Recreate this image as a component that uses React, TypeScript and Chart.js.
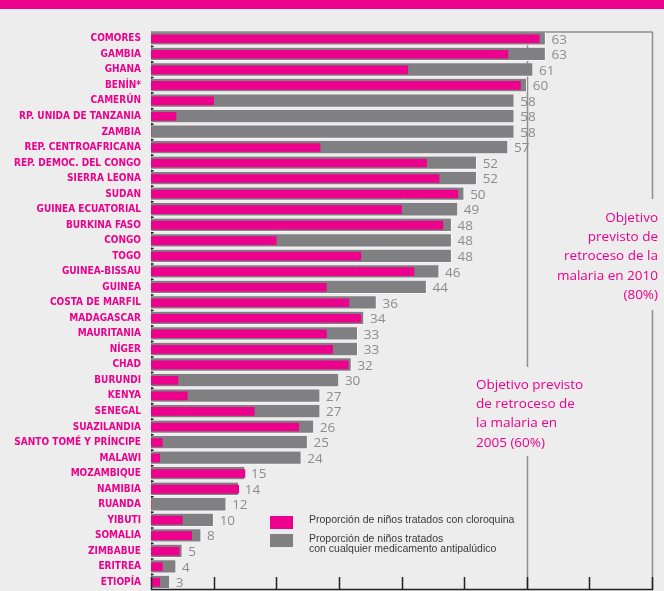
import React, { useEffect, useRef } from "react";
import { Chart, registerables } from "chart.js";

Chart.register(...registerables);

const categories = [
  "COMORES", "GAMBIA", "GHANA", "BENÍN*", "CAMERÚN", "RP. UNIDA DE TANZANIA", "ZAMBIA",
  "REP. CENTROAFRICANA", "REP. DEMOC. DEL CONGO", "SIERRA LEONA", "SUDAN", "GUINEA ECUATORIAL",
  "BURKINA FASO", "CONGO", "TOGO", "GUINEA-BISSAU", "GUINEA", "COSTA DE MARFIL", "MADAGASCAR",
  "MAURITANIA", "NÍGER", "CHAD", "BURUNDI", "KENYA", "SENEGAL", "SUAZILANDIA",
  "SANTO TOMÉ Y PRÍNCIPE", "MALAWI", "MOZAMBIQUE", "NAMIBIA", "RUANDA", "YIBUTI", "SOMALIA",
  "ZIMBABUE", "ERITREA", "ETIOPÍA",
];

const anyDrugValues = [
  63, 63, 61, 60, 58, 58, 58, 57, 52, 52, 50, 49, 48, 48, 48, 46, 44, 36, 34, 33, 33, 32, 30,
  27, 27, 26, 25, 24, 15, 14, 12, 10, 8, 5, 4, 3,
];

const chloroquineValues = [
  62, 57, 41, 59, 10, 4, 0, 27, 44, 46, 49, 40, 46.6, 20, 33.5, 42, 28, 31.6, 33.5, 28, 29, 31.5,
  4.3, 5.8, 16.5, 23.6, 1.8, 1.4, 15, 14, 0, 5, 6.5, 4.5, 1.8, 1.4,
];

const xTicks = [0, 10, 20, 30, 40, 50, 60, 70, 80];
const targetLines = [60, 80];

const legendLabels = [
  ["Proporción de niños tratados con cloroquina"],
  ["Proporción de niños tratados", "con cualquier medicamento antipalúdico"],
];

const note2010 = ["Objetivo", "previsto de", "retroceso de la", "malaria en 2010", "(80%)"];
const note2005 = ["Objetivo previsto", "de retroceso de", "la malaria en", "2005 (60%)"];

const PINK = "#ec008c";
const GREY = "#808083";
const LINE = "#8e8e8e";

const decorPlugin = {
  id: "decor",
  beforeDraw(chart: any) {
    const { ctx, width, height } = chart;
    ctx.save();
    ctx.fillStyle = "#ededed";
    ctx.fillRect(0, 0, width, height);
    ctx.fillStyle = PINK;
    ctx.fillRect(0, 0, width, 9);
    ctx.restore();
  },
  beforeDatasetsDraw(chart: any) {
    const { ctx, chartArea, scales } = chart;
    const x = scales.x;
    const x60 = Math.round(x.getPixelForValue(targetLines[0])) + 0.5;
    const x80 = Math.round(x.getPixelForValue(targetLines[1])) + 0.5;
    ctx.save();
    ctx.strokeStyle = LINE;
    ctx.lineWidth = 1.5;
    ctx.beginPath();
    ctx.moveTo(chartArea.left, chartArea.top + 1);
    ctx.lineTo(x80, chartArea.top + 1);
    ctx.moveTo(x80, chartArea.top + 1);
    ctx.lineTo(x80, 199);
    ctx.moveTo(x80, 310);
    ctx.lineTo(x80, chartArea.bottom);
    ctx.moveTo(x60, chartArea.top + 1);
    ctx.lineTo(x60, 367);
    ctx.moveTo(x60, 456);
    ctx.lineTo(x60, chartArea.bottom);
    ctx.stroke();
    ctx.strokeStyle = "#8a8a8a";
    ctx.lineWidth = 1;
    ctx.beginPath();
    ctx.moveTo(chartArea.left + 0.5, chartArea.top);
    ctx.lineTo(chartArea.left + 0.5, chartArea.bottom);
    ctx.stroke();
    ctx.restore();
  },
  afterDatasetsDraw(chart: any) {
    const { ctx, chartArea, scales } = chart;
    const x = scales.x;
    const y = scales.y;
    ctx.save();
    ctx.fillStyle = "#8c8c8c";
    ctx.font = '13.5px "Open Sans", "Liberation Sans", sans-serif';
    ctx.textAlign = "left";
    ctx.textBaseline = "middle";
    anyDrugValues.forEach((v, i) => {
      const px = x.getPixelForValue(v);
      const py = y.getPixelForValue(i);
      ctx.fillText(String(v), px + 6, py + 1);
    });
    ctx.strokeStyle = "#111";
    ctx.lineWidth = 1.5;
    ctx.beginPath();
    for (let i = 1; i < categories.length; i++) {
      const py = (y.getPixelForValue(i - 1) + y.getPixelForValue(i)) / 2;
      ctx.moveTo(chartArea.left, py);
      ctx.lineTo(chartArea.left + 2.5, py);
    }
    ctx.stroke();
    ctx.strokeStyle = "#222";
    ctx.lineWidth = 1.5;
    ctx.beginPath();
    ctx.moveTo(chartArea.left, chartArea.bottom - 0.5);
    ctx.lineTo(chartArea.right + 1, chartArea.bottom - 0.5);
    xTicks.forEach((t) => {
      const px = Math.round(x.getPixelForValue(t)) + 0.5;
      ctx.moveTo(px, chartArea.bottom);
      ctx.lineTo(px, chartArea.bottom - 13);
    });
    ctx.stroke();
    ctx.fillStyle = PINK;
    ctx.font = '13.5px "Open Sans", "Liberation Sans", sans-serif';
    ctx.textBaseline = "middle";
    ctx.textAlign = "right";
    note2010.forEach((line, i) => ctx.fillText(line, 658, 218 + i * 19.3));
    ctx.textAlign = "left";
    note2005.forEach((line, i) => ctx.fillText(line, 476, 385 + i * 19.3));
    ctx.fillStyle = PINK;
    ctx.fillRect(270, 516, 23, 13);
    ctx.fillStyle = GREY;
    ctx.fillRect(270, 534, 23, 13);
    ctx.fillStyle = "#3a3a3a";
    ctx.font = '10.5px "Liberation Sans", sans-serif';
    ctx.textAlign = "left";
    ctx.fillText(legendLabels[0][0], 309, 520);
    ctx.fillText(legendLabels[1][0], 309, 539);
    ctx.fillText(legendLabels[1][1], 309, 549);
    ctx.restore();
  },
};

export default function App() {
  const ref = useRef<HTMLCanvasElement | null>(null);
  useEffect(() => {
    if (!ref.current) return;
    const chart = new Chart(ref.current, {
      type: "bar",
      data: {
        labels: categories,
        datasets: [
          {
            label: "Proporción de niños tratados con cloroquina",
            data: chloroquineValues,
            backgroundColor: PINK,
            barThickness: 8,
            grouped: false,
            borderWidth: 0,
            order: 0,
          } as any,
          {
            label: "Proporción de niños tratados con cualquier medicamento antipalúdico",
            data: anyDrugValues,
            backgroundColor: GREY,
            borderColor: "#f7f7f7",
            borderWidth: { top: 0, left: 0, right: 1, bottom: 1 },
            barThickness: 13,
            grouped: false,
            order: 1,
          } as any,
        ],
      },
      options: {
        indexAxis: "y",
        responsive: false,
        animation: false,
        layout: { padding: { top: 31, right: 12, bottom: 1, left: 0 } },
        plugins: { legend: { display: false }, tooltip: { enabled: false } },
        scales: {
          x: { display: false, min: 0, max: 80 },
          y: {
            grid: { display: false },
            border: { display: false },
            afterFit: (s: any) => {
              s.width = 151;
              s.paddingTop = 0;
              s.paddingBottom = 0;
            },
            ticks: {
              color: PINK,
              padding: 2,
              autoSkip: false,
              font: { family: '"Liberation Sans Narrow", "DejaVu Sans Condensed", sans-serif', size: 10, weight: "bold" },
            },
          },
        },
      },
      plugins: [decorPlugin],
    });
    return () => chart.destroy();
  }, []);
  return (
    <div style={{ position: "fixed", left: 0, top: 0, width: 664, height: 591 }}>
      <canvas ref={ref} width={664} height={591} style={{ display: "block", width: 664, height: 591 }} />
    </div>
  );
}
